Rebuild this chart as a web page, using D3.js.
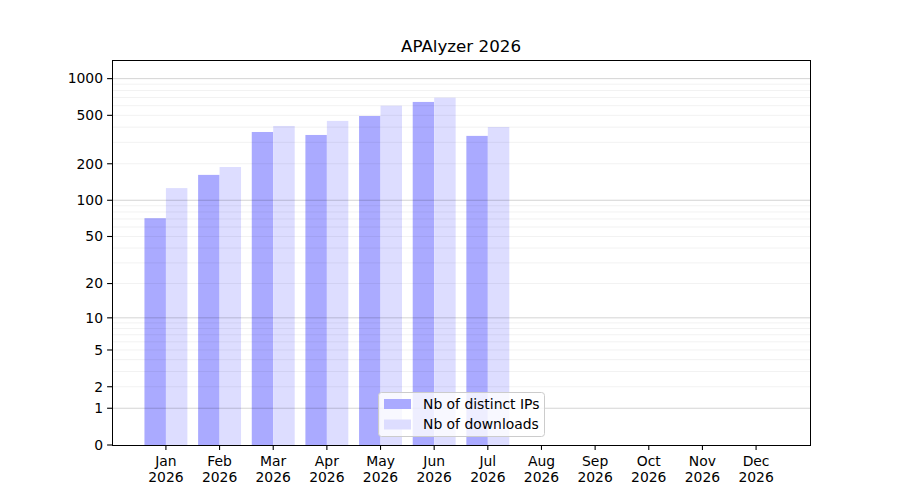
<!DOCTYPE html>
<html>
<head>
<meta charset="utf-8">
<script src="https://cdn.jsdelivr.net/npm/d3@7"></script>
<style>
  body { margin: 0; background: #fff; }
  svg { font-family: "DejaVu Sans", sans-serif; }
</style>
</head>
<body>
<svg id="chart" width="900" height="500"></svg>
<script>
const title = "APAlyzer 2026";
const months = ["Jan","Feb","Mar","Apr","May","Jun","Jul","Aug","Sep","Oct","Nov","Dec"];
const year = "2026";
const distinctIPs = [71, 162, 365, 345, 494, 644, 339, 0, 0, 0, 0, 0];
const downloads = [126, 188, 409, 450, 600, 698, 401, 0, 0, 0, 0, 0];
const yTicks = [0, 1, 2, 5, 10, 20, 50, 100, 200, 500, 1000];
const majorGrid = [1, 10, 100, 1000];
const minorGrid = [2,3,4,5,6,7,8,9,20,30,40,50,60,70,80,90,200,300,400,500,600,700,800,900];
const seriesNames = ["Nb of distinct IPs", "Nb of downloads"];
const seriesColors = ["#aaaaff", "#ddddff"];

const svg = d3.select("#chart");
const m = {left: 112, right: 810, top: 60, bottom: 445};

// y transform: log10(1 + v)
const tf = v => Math.log10(1 + v);
const yLin = d3.scaleLinear().domain([0, 3.153]).range([m.bottom, m.top]);
const y = v => yLin(tf(v));

const x = d3.scaleLinear().domain([-1.005, 12.005]).range([m.left, m.right]);
const bw = 0.4;

// bars
const g = svg.append("g");
g.selectAll("rect.ip").data(distinctIPs).join("rect")
  .attr("x", (d, i) => x(i - bw))
  .attr("width", (d, i) => x(i) - x(i - bw))
  .attr("y", d => y(d))
  .attr("height", d => y(0) - y(d))
  .attr("fill", seriesColors[0]);
g.selectAll("rect.dl").data(downloads).join("rect")
  .attr("x", (d, i) => x(i))
  .attr("width", (d, i) => x(i + bw) - x(i))
  .attr("y", d => y(d))
  .attr("height", d => y(0) - y(d))
  .attr("fill", seriesColors[1]);

// grid lines (on top of bars)
svg.append("g").selectAll("line").data(minorGrid).join("line")
  .attr("x1", m.left).attr("x2", m.right)
  .attr("y1", d => y(d)).attr("y2", d => y(d))
  .attr("stroke", "#000").attr("stroke-opacity", 0.07).attr("stroke-width", 0.8);
svg.append("g").selectAll("line").data(majorGrid).join("line")
  .attr("x1", m.left).attr("x2", m.right)
  .attr("y1", d => y(d)).attr("y2", d => y(d))
  .attr("stroke", "#000").attr("stroke-opacity", 0.22).attr("stroke-width", 0.8);

// frame
svg.append("rect")
  .attr("x", m.left + 0.5).attr("y", m.top + 0.5)
  .attr("width", m.right - m.left).attr("height", m.bottom - m.top)
  .attr("fill", "none").attr("stroke", "#000").attr("stroke-width", 1);

// y axis ticks
const yt = svg.append("g");
yTicks.forEach(t => {
  const yy = y(t);
  yt.append("line").attr("x1", m.left - 4.9).attr("x2", m.left).attr("y1", yy).attr("y2", yy)
    .attr("stroke", "#000").attr("stroke-width", 1.1);
  yt.append("text").attr("x", m.left - 9).attr("y", yy).attr("dy", "0.35em")
    .attr("text-anchor", "end").attr("font-size", 13.9).attr("fill", "#000").text(t);
});

// x axis ticks
const xt = svg.append("g");
months.forEach((mo, i) => {
  const xx = x(i);
  xt.append("line").attr("x1", xx).attr("x2", xx).attr("y1", m.bottom).attr("y2", m.bottom + 4.9)
    .attr("stroke", "#000").attr("stroke-width", 1.1);
  const t = xt.append("text").attr("x", xx).attr("text-anchor", "middle").attr("font-size", 13.9).attr("fill", "#000");
  t.append("tspan").attr("x", xx).attr("y", 466).text(mo);
  t.append("tspan").attr("x", xx).attr("y", 482).text(year);
});

// title
svg.append("text").attr("x", (m.left + m.right) / 2).attr("y", 52)
  .attr("text-anchor", "middle").attr("font-size", 16.7).attr("fill", "#000").text(title);

// legend
const lg = svg.append("g");
lg.append("rect").attr("x", 378.5).attr("y", 392.5).attr("width", 166).attr("height", 44)
  .attr("rx", 3).attr("fill", "#fff").attr("fill-opacity", 0.8)
  .attr("stroke", "#ccc").attr("stroke-width", 1);
seriesNames.forEach((name, i) => {
  const yy = 399 + i * 20.5;
  lg.append("rect").attr("x", 384).attr("y", yy).attr("width", 27).attr("height", 10)
    .attr("fill", seriesColors[i]);
  lg.append("text").attr("x", 423).attr("y", yy + 5).attr("dy", "0.35em")
    .attr("font-size", 13.9).attr("fill", "#000").text(name);
});
</script>
</body>
</html>
